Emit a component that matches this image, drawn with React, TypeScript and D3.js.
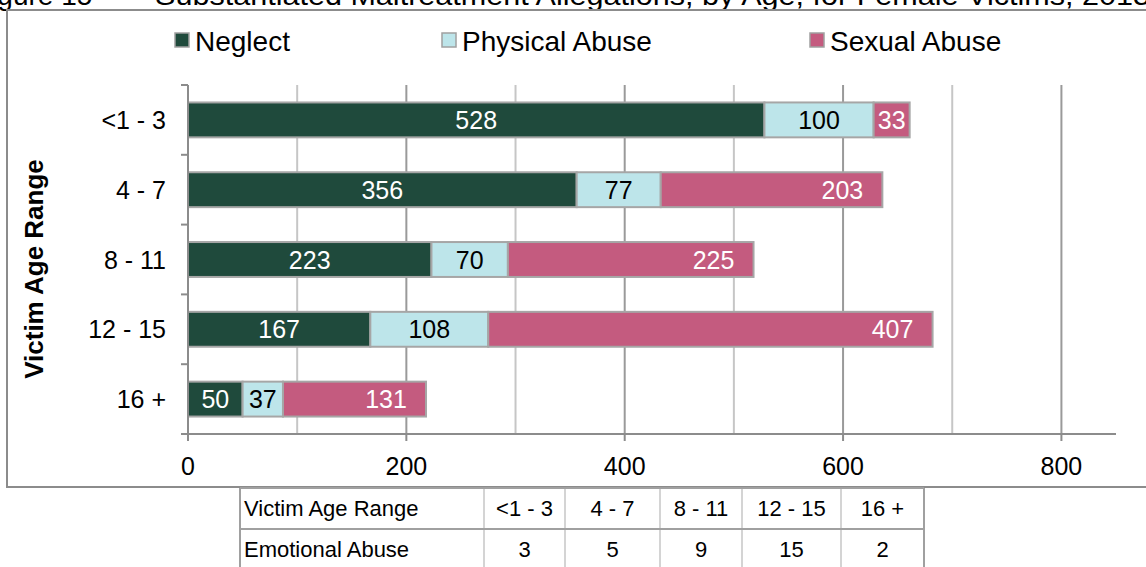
import React from 'react';
import * as d3 from 'd3';

const ageRanges = ['<1 - 3', '4 - 7', '8 - 11', '12 - 15', '16 +'];
const neglect = [528, 356, 223, 167, 50];
const physicalAbuse = [100, 77, 70, 108, 37];
const sexualAbuse = [33, 203, 225, 407, 131];
const emotionalAbuse = [3, 5, 9, 15, 2];
const seriesNames = ['Neglect', 'Physical Abuse', 'Sexual Abuse'];
const xTicks = [0, 200, 400, 600, 800];
const gridTicks = [100, 200, 300, 400, 500, 600, 700, 800];

const W = 1146;
const H = 567;
const FONT = 'Liberation Sans, Arial, sans-serif';

const App = () => {
  const rows = ageRanges.map((age, i) => ({
    age,
    Neglect: neglect[i],
    'Physical Abuse': physicalAbuse[i],
    'Sexual Abuse': sexualAbuse[i],
  }));
  const stacked = d3.stack<any>().keys(seriesNames)(rows);

  const x = d3.scaleLinear().domain([0, 850]).range([188, 1116]);
  const y = d3.scaleBand().domain(ageRanges).range([85, 434]).paddingInner(0.5).paddingOuter(0.25);
  const color = d3.scaleOrdinal<string>().domain(seriesNames).range(['#1f4a3c', '#bde5ea', '#c45b7f']);
  const labelColor = d3.scaleOrdinal<string>().domain(seriesNames).range(['#ffffff', '#000000', '#ffffff']);

  const step = y.step();
  const boundaries = ageRanges.map((a) => (y(a) as number) - step * 0.25).concat([434]);

  // table layout
  const colEdges = [240, 484, 565, 660, 742, 841, 924];
  const tableTop = 488;
  const rowH = 41;

  const legendX = [175, 442, 810];

  return (
    <svg width={W} height={H} style={{ position: 'absolute', left: 0, top: 0, background: '#fff' }} fontFamily={FONT}>
      {/* clipped figure title */}
      <text x={-26} y={5} fontSize={28} fill="#000">
        Figure 15
      </text>
      <text x={155} y={5} fontSize={28} fill="#000" textLength={995} lengthAdjust="spacingAndGlyphs">
        Substantiated Maltreatment Allegations, by Age, for Female Victims, 2013
      </text>

      {/* chart frame */}
      <rect x={7} y={10} width={1160} height={477} fill="#fff" stroke="#8c8c8c" strokeWidth={2} />

      {/* legend */}
      {seriesNames.map((s, i) => (
        <g key={s}>
          <rect x={legendX[i]} y={33} width={14} height={14} fill={color(s)} stroke="#a0a0a0" strokeWidth={1.5} />
          <text x={legendX[i] + 20} y={51} fontSize={28} fill="#000">
            {s}
          </text>
        </g>
      ))}

      {/* gridlines */}
      {gridTicks.map((t) => (
        <line
          key={t}
          x1={x(t)}
          x2={x(t)}
          y1={85}
          y2={434}
          stroke={t % 200 === 0 ? '#9a9a9a' : '#c6c6c6'}
          strokeWidth={2}
        />
      ))}

      {/* bars */}
      {stacked.map((layer) => (
        <g key={layer.key}>
          {layer.map((d, i) => (
            <rect
              key={i}
              x={x(d[0])}
              y={y(ageRanges[i])}
              width={x(d[1]) - x(d[0])}
              height={y.bandwidth()}
              fill={color(layer.key)}
              stroke="#a6a6a6"
              strokeWidth={2}
            />
          ))}
          {layer.map((d, i) => {
            const x0 = x(d[0]);
            const x1 = x(d[1]);
            const mid = (x0 + x1) / 2;
            const lx = layer.key === 'Sexual Abuse' ? Math.max(mid, x1 - 40) : mid;
            return (
              <text
                key={'l' + i}
                x={lx}
                y={(y(ageRanges[i]) as number) + y.bandwidth() / 2}
                dy="0.36em"
                textAnchor="middle"
                fontSize={25}
                fill={labelColor(layer.key)}
              >
                {d[1] - d[0]}
              </text>
            );
          })}
        </g>
      ))}

      {/* axes */}
      <line x1={188} x2={188} y1={85} y2={441} stroke="#8c8c8c" strokeWidth={2} />
      {boundaries.map((b, i) => (
        <line key={i} x1={181} x2={188} y1={b} y2={b} stroke="#8c8c8c" strokeWidth={2} />
      ))}
      <line x1={181} x2={x(850)} y1={434} y2={434} stroke="#8c8c8c" strokeWidth={2} />
      {xTicks.map((t) => (
        <g key={t}>
          <line x1={x(t)} x2={x(t)} y1={434} y2={441} stroke="#8c8c8c" strokeWidth={2} />
          <text x={x(t)} y={475} textAnchor="middle" fontSize={25} fill="#000">
            {t}
          </text>
        </g>
      ))}
      {ageRanges.map((a) => (
        <text
          key={a}
          x={166}
          y={(y(a) as number) + y.bandwidth() / 2}
          dy="0.36em"
          textAnchor="end"
          fontSize={25}
          fill="#000"
        >
          {a}
        </text>
      ))}
      <text
        transform="translate(43,269) rotate(-90)"
        textAnchor="middle"
        fontSize={26}
        fontWeight="bold"
        fill="#000"
      >
        Victim Age Range
      </text>

      {/* data table */}
      <rect x={colEdges[0]} y={tableTop} width={colEdges[6] - colEdges[0]} height={rowH * 2 + 10} fill="#fff" />
      {colEdges.slice(1, 6).map((c, i) => (
        <line key={i} x1={c} x2={c} y1={tableTop} y2={H} stroke="#d4d4d4" strokeWidth={2} />
      ))}
      <line x1={colEdges[0]} x2={colEdges[0]} y1={tableTop} y2={H} stroke="#a0a0a0" strokeWidth={2} />
      <line x1={colEdges[6]} x2={colEdges[6]} y1={tableTop} y2={H} stroke="#a0a0a0" strokeWidth={2} />
      <line x1={colEdges[0]} x2={colEdges[6]} y1={tableTop} y2={tableTop} stroke="#a0a0a0" strokeWidth={2} />
      <line x1={colEdges[0]} x2={colEdges[6]} y1={tableTop + rowH} y2={tableTop + rowH} stroke="#a0a0a0" strokeWidth={2} />
      <text x={244} y={tableTop + rowH / 2} dy="0.36em" fontSize={22} fill="#000">
        Victim Age Range
      </text>
      <text x={244} y={tableTop + rowH * 1.5} dy="0.36em" fontSize={22} fill="#000">
        Emotional Abuse
      </text>
      {ageRanges.map((a, i) => (
        <g key={a}>
          <text
            x={(colEdges[i + 1] + colEdges[i + 2]) / 2}
            y={tableTop + rowH / 2}
            dy="0.36em"
            textAnchor="middle"
            fontSize={22}
            fill="#000"
          >
            {a}
          </text>
          <text
            x={(colEdges[i + 1] + colEdges[i + 2]) / 2}
            y={tableTop + rowH * 1.5}
            dy="0.36em"
            textAnchor="middle"
            fontSize={22}
            fill="#000"
          >
            {emotionalAbuse[i]}
          </text>
        </g>
      ))}
    </svg>
  );
};

export default App;
